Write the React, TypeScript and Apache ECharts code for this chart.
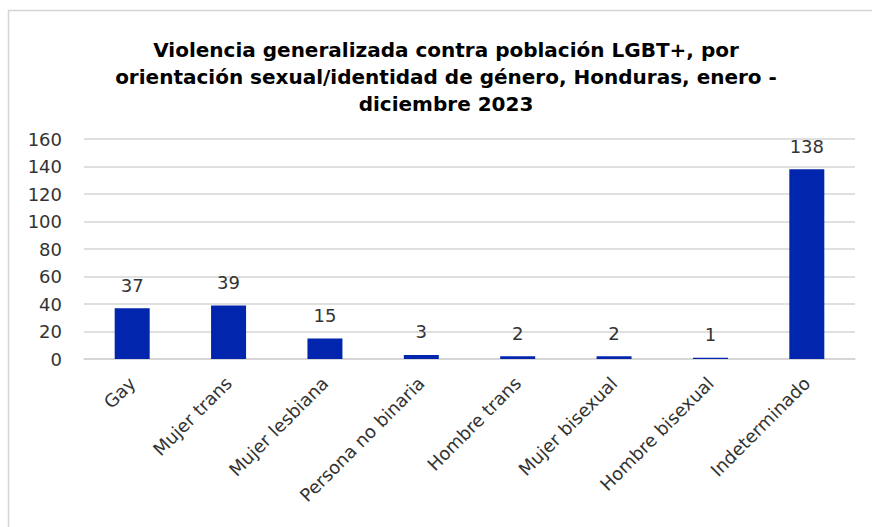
import React, { useEffect, useRef } from "react";
import * as echarts from "echarts";

const categories = [
  "Gay",
  "Mujer trans",
  "Mujer lesbiana",
  "Persona no binaria",
  "Hombre trans",
  "Mujer bisexual",
  "Hombre bisexual",
  "Indeterminado",
];
const values = [37, 39, 15, 3, 2, 2, 1, 138];
const titleText =
  "Violencia generalizada contra población LGBT+, por\norientación sexual/identidad de género, Honduras, enero -\ndiciembre 2023";

const FONT = "'DejaVu Sans', sans-serif";

export default function App() {
  const ref = useRef<HTMLDivElement>(null);
  useEffect(() => {
    if (!ref.current) return;
    const chart = echarts.init(ref.current, undefined, { renderer: "svg" });
    chart.setOption({
      animation: false,
      backgroundColor: "#ffffff",
      title: {
        text: titleText,
        left: 441,
        top: 31,
        textAlign: "center",
        textStyle: {
          fontFamily: FONT,
          fontWeight: "bold",
          fontSize: 20,
          lineHeight: 27,
          color: "#000000",
        },
      },
      graphic: [
        {
          type: "rect",
          shape: { x: 8.5, y: 10.5, width: 900, height: 600 },
          style: { fill: "none", stroke: "#d4d4d4", lineWidth: 1.5 },
          silent: true,
        },
      ],
      grid: { left: 84, right: 17, top: 139, bottom: 168, containLabel: false },
      xAxis: {
        type: "category",
        data: categories,
        axisLine: { show: true, lineStyle: { color: "#d4d4d4", width: 1.5 } },
        axisTick: { show: false },
        axisLabel: {
          rotate: 45,
          interval: 0,
          margin: 21,
          fontFamily: FONT,
          fontSize: 18,
          color: "#333333",
        },
      },
      yAxis: {
        type: "value",
        min: 0,
        max: 160,
        interval: 20,
        axisLine: { show: false },
        axisTick: { show: false },
        splitLine: { lineStyle: { color: "#d4d4d4", width: 1.5 } },
        axisLabel: {
          margin: 22,
          fontFamily: FONT,
          fontSize: 18,
          color: "#333333",
        },
      },
      series: [
        {
          type: "bar",
          data: values,
          barWidth: 35,
          itemStyle: { color: "#0126AD" },
          label: {
            show: true,
            position: "top",
            distance: 14,
            fontFamily: FONT,
            fontSize: 18,
            color: "#333333",
          },
        },
      ],
    });
    return () => chart.dispose();
  }, []);
  return (
    <div
      ref={ref}
      style={{ position: "fixed", left: 0, top: 0, width: 872, height: 527 }}
    />
  );
}
